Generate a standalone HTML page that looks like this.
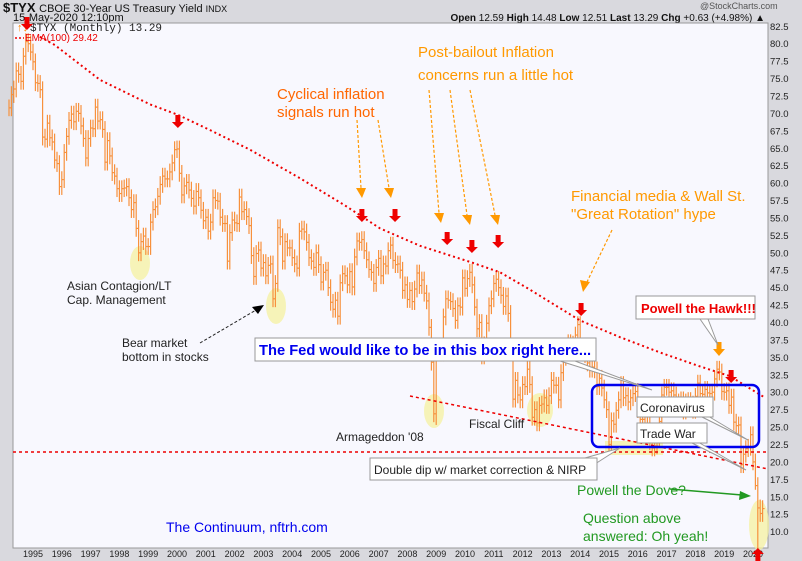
<!DOCTYPE html>
<html><head><meta charset="utf-8"><style>
body{margin:0;background:#d9d9de;}
svg{display:block;font-family:"Liberation Sans",Arial,sans-serif;}
</style></head><body>
<svg id="chart" width="802" height="561" viewBox="0 0 802 561" xmlns="http://www.w3.org/2000/svg">
<rect x="0" y="0" width="802" height="561" fill="#d9d9de"/>
<text x="3" y="12" font-size="13" font-weight="bold" fill="#111">$TYX <tspan font-size="11" font-weight="normal">CBOE 30-Year US Treasury Yield <tspan font-size="9">INDX</tspan></tspan></text>
<text x="13" y="21" font-size="11" fill="#111">15-May-2020 12:10pm</text>
<text x="700" y="9" font-size="9" fill="#555">@StockCharts.com</text>
<text x="765" y="21" font-size="10" text-anchor="end" fill="#111"><tspan font-weight="bold">Open</tspan> 12.59 <tspan font-weight="bold">High</tspan> 14.48 <tspan font-weight="bold">Low</tspan> 12.51 <tspan font-weight="bold">Last</tspan> 13.29 <tspan font-weight="bold">Chg</tspan> +0.63 (+4.98%) ▲</text>
<rect x="13" y="23" width="755" height="525" fill="#f8f8fe" stroke="#999"/>
<g id="yaxis"></g>
<g id="xaxis"></g>
<g id="highlights">
<ellipse cx="140" cy="263" rx="10" ry="17" fill="#f5f2a0" opacity="0.75"/>
<ellipse cx="276" cy="306" rx="10" ry="18" fill="#f5f2a0" opacity="0.75"/>
<ellipse cx="434" cy="411" rx="10" ry="17" fill="#f5f2a0" opacity="0.75"/>
<ellipse cx="540" cy="410" rx="13" ry="17" fill="#f5f2a0" opacity="0.75"/>
<rect x="605" y="441" width="58" height="14" fill="#f5f2a0" opacity="0.75"/>
<ellipse cx="759" cy="525" rx="10" ry="25" fill="#f5f2a0" opacity="0.75"/>
</g>
<g id="bars"></g>
<g id="ema"></g>
<line x1="13" y1="452" x2="768" y2="452" stroke="#e00" stroke-width="1.5" stroke-dasharray="3,3"/>
<line x1="410" y1="396" x2="768" y2="469" stroke="#e00" stroke-width="1.5" stroke-dasharray="3,3"/>
<rect x="592" y="385" width="167" height="62" rx="7" fill="none" stroke="#0000ee" stroke-width="2.5"/>
<g id="legend">
<text x="17" y="31" font-size="11" fill="#f80">↑↓</text>
<text x="30" y="31" font-size="11" font-family="Liberation Mono, monospace" fill="#222">$TYX (Monthly) 13.29</text>
<line x1="15" y1="38" x2="24" y2="38" stroke="#e00" stroke-dasharray="2,2" stroke-width="1.5"/>
<text x="25" y="41" font-size="10" fill="#e00">EMA(100) 29.42</text>
</g>
<g id="arrows"></g>
<g id="notes" font-size="12" fill="#222">
<text x="67" y="290">Asian Contagion/LT</text>
<text x="67" y="304">Cap. Management</text>
<text x="122" y="347">Bear market</text>
<text x="122" y="361">bottom in stocks</text>
<line x1="200" y1="343" x2="256" y2="310" stroke="#222" stroke-dasharray="3,2"/>
<polygon points="264,305 252,307 258,314" fill="#000"/>
<text x="469" y="428">Fiscal Cliff</text>
<text x="336" y="441">Armageddon '08</text>
<g font-size="15" fill="#f60"><text x="277" y="99">Cyclical inflation</text><text x="277" y="117">signals run hot</text></g>
<g font-size="15" fill="#f90"><text x="418" y="57">Post-bailout Inflation</text><text x="418" y="80">concerns run a little hot</text>
<text x="571" y="201">Financial media &amp; Wall St.</text><text x="571" y="219">"Great Rotation" hype</text></g>
<g stroke="#f90" stroke-width="1.2" stroke-dasharray="3,2" fill="none">
<line x1="357" y1="120" x2="361" y2="188"/><line x1="378" y1="120" x2="389" y2="188"/>
<line x1="429" y1="90" x2="439" y2="213"/><line x1="450" y1="90" x2="467" y2="215"/><line x1="470" y1="90" x2="495" y2="215"/>
<line x1="612" y1="230" x2="587" y2="282"/></g>
<g fill="#f90"><polygon points="356,188 366,188 362,198"/><polygon points="384,188 394,188 391,198"/><polygon points="434,213 444,213 441,223"/><polygon points="462,215 472,215 470,225"/><polygon points="490,215 500,215 498,225"/><polygon points="580,280 590,282 583,292"/></g>
<g fill="#fff" stroke="#999">
<polyline points="560,361 652,390 575,361" fill="#fff"/>
<rect x="255" y="338" width="341" height="23"/>
<polyline points="700,319 718,345 708,319"/>
<rect x="636" y="296" width="119" height="23"/>
<polyline points="700,416 748,440 708,416"/>
<rect x="637" y="397" width="76" height="20"/>
<polyline points="690,442 746,470 698,442"/>
<rect x="637" y="423" width="70" height="20"/>
<polyline points="585,458 620,448 595,464"/>
<rect x="370" y="458" width="227" height="22"/>
</g>
<text x="259" y="355" font-size="14.7" font-weight="bold" fill="#0000ee">The Fed would like to be in this box right here...</text>
<text x="641" y="313" font-size="13" font-weight="bold" fill="#e00">Powell the Hawk!!!</text>
<text x="640" y="412" font-size="12">Coronavirus</text>
<text x="640" y="438" font-size="12">Trade War</text>
<text x="374" y="474" font-size="12">Double dip w/ market correction &amp; NIRP</text>
<g font-size="14" fill="#229922"><text x="577" y="495">Powell the Dove?</text>
<text x="583" y="523">Question above</text><text x="583" y="541">answered: Oh yeah!</text></g>
<line x1="670" y1="489" x2="742" y2="495" stroke="#229922" stroke-width="1.5"/>
<polygon points="751,496 740,491 739,500" fill="#229922"/>
<text x="166" y="532" font-size="14" fill="#0000ee">The Continuum, nftrh.com</text>
</g>
</svg>
<script>
const years = [1995,1996,1997,1998,1999,2000,2001,2002,2003,2004,2005,2006,2007,2008,2009,2010,2011,2012,2013,2014,2015,2016,2017,2018,2019,2020];
const yTicks = [82.5,80,77.5,75,72.5,70,67.5,65,62.5,60,57.5,55,52.5,50,47.5,45,42.5,40,37.5,35,32.5,30,27.5,25,22.5,20,17.5,15,12.5,10];
const startYear = 1994 + 2/12;
const closes = [
70.8,72.7,73.5,76.1,75.6,74.6,78.2,80.3,80.0,78.8,
77.4,74.4,74.3,73.4,66.6,66.3,68.6,66.5,65.9,63.3,62.8,59.5,
60.5,64.4,66.7,69.0,69.9,68.8,70.3,70.0,68.2,66.4,63.6,66.4,
67.9,67.8,70.9,68.9,69.1,67.7,63.0,66.1,63.9,61.5,61.0,59.2,
58.5,59.2,59.3,59.5,57.9,56.2,57.2,53.5,50.0,51.6,52.4,50.9,
50.9,54.4,56.2,56.6,58.1,59.8,61.0,60.6,60.6,61.6,62.9,64.8,
64.9,61.4,58.3,59.6,60.1,59.0,57.8,56.7,58.8,57.9,56.1,54.6,
55.1,53.1,54.4,57.9,57.5,57.4,55.1,54.2,54.2,48.8,52.9,54.7,
54.3,54.2,58.0,55.9,56.2,55.2,53.9,49.6,46.6,49.9,50.4,47.8,
48.6,46.7,48.2,48.4,43.4,45.6,53.6,52.3,48.8,51.6,50.7,50.7,
49.3,48.4,47.8,53.1,53.4,53.0,51.5,49.3,48.8,47.9,50.0,48.3,
45.8,47.2,47.5,45.0,42.9,41.9,43.2,40.9,45.7,47.0,46.7,45.4,
47.3,45.1,49.4,51.7,51.5,51.9,50.3,49.0,47.6,47.2,45.6,47.9,
49.2,46.7,48.4,48.1,50.3,51.1,48.9,48.3,48.4,47.5,44.6,45.4,
43.3,44.6,43.0,44.8,47.1,45.3,46.1,44.2,43.1,39.3,34.3,26.9,
36.0,36.1,35.6,40.8,43.4,43.2,43.0,42.0,40.3,42.4,42.2,46.4,
44.9,46.3,47.2,45.4,42.2,39.1,40.0,35.2,36.8,39.9,42.4,43.4,
45.6,46.2,45.0,43.9,42.3,43.8,41.3,36.0,29.0,31.7,29.6,28.9,
31.1,30.8,33.3,31.1,26.4,27.5,25.6,28.1,28.3,29.2,28.1,29.5,
31.7,31.0,31.0,28.9,32.8,35.0,36.4,37.1,36.9,36.3,38.2,39.7,
36.0,35.8,35.4,34.2,33.3,33.6,33.2,30.8,32.0,30.6,28.9,27.5,
22.5,25.9,25.4,27.4,28.9,31.1,29.2,29.5,28.6,29.2,29.8,30.1,
27.5,26.1,26.1,26.7,26.5,22.9,22.0,22.3,23.2,25.8,29.6,30.7,
30.7,30.0,30.2,29.6,28.6,28.4,28.9,27.3,28.6,28.8,28.3,27.4,
29.4,31.3,29.8,29.7,30.4,29.9,29.8,30.0,31.9,33.3,32.9,30.1,
30.0,30.2,28.1,29.3,25.7,25.2,25.3,19.6,21.1,21.9,22.1,23.9,
20.0,16.6,13.4,12.6,13.3];
const lowOverride = {178:25.3, 312:7.0, 311:16.0};
const emaDates = [1995.24,1995.76,1997.33,1999.06,2000.03,2001.15,2002.53,2004.27,2005.83,2007.05,2008.44,2010.17,2011.22,2012.26,2013.99,2015.38,2016.77,2018.16,2019.2,2020.42];
const emaValues = [81.0,79.8,74.8,71.3,69.8,67.6,64.8,60.7,56.8,53.5,51.0,48.7,47.2,44.7,40.3,37.9,35.7,33.7,32.3,29.2];
const redArrowDates = [1994.79,2000.03,2006.42,2007.57,2009.38,2010.24,2011.15,2014.03,2019.24,2020.17];
const redArrowYs = [30,128,222,222,245,253,248,316,383,557];

const NS='http://www.w3.org/2000/svg';
function x(t){return 33+(t-1995)*28.8;}
function y(v){return 43.7+(80-v)*6.97;}
function mk(tag,attrs,parent){const e=document.createElementNS(NS,tag);for(const k in attrs)e.setAttribute(k,attrs[k]);parent.appendChild(e);return e;}
const yg=document.getElementById('yaxis');
yTicks.forEach(v=>{
  const t=mk('text',{x:770,y:y(v)+3.5,'font-size':9.5,fill:'#222'},yg);
  t.textContent=v.toFixed(1);
  
  
});
const xg=document.getElementById('xaxis');
years.forEach(yr=>{
  const t=mk('text',{x:x(yr),y:557,'font-size':9,'text-anchor':'middle',fill:'#222'},xg);
  t.textContent=String(yr);
  
  
});
const bg=document.getElementById('bars');
closes.forEach((c,i)=>{
  const o=i>0?closes[i-1]:c;
  const hi=Math.max(o,c)+1.2;
  const lo=lowOverride[i]!==undefined?lowOverride[i]:Math.min(o,c)-1.2;
  const xx=x(startYear+i/12);
  const g=mk('g',{stroke:'#f7913d','stroke-width':1.2},bg);
  
  
  mk('line',{x1:xx,y1:y(hi),x2:xx,y2:y(lo)},g);
  mk('line',{x1:xx,y1:y(c),x2:xx+2,y2:y(c)},g);
});
const eg=document.getElementById('ema');
const pl=mk('polyline',{points:emaDates.map((d,i)=>x(d)+','+y(emaValues[i])).join(' '),fill:'none',stroke:'#e00','stroke-width':2,'stroke-dasharray':'2,3'},eg);


const ag=document.getElementById('arrows');
redArrowDates.forEach((d,i)=>{
  const xx=x(d),yy=redArrowYs[i];
  const up=i===redArrowDates.length-1;
  const pts=up?[[xx,yy-9],[xx-6,yy-3],[xx-2.5,yy-3],[xx-2.5,yy+4],[xx+2.5,yy+4],[xx+2.5,yy-3],[xx+6,yy-3]]
    :[[xx,yy],[xx-6,yy-6],[xx-2.5,yy-6],[xx-2.5,yy-13],[xx+2.5,yy-13],[xx+2.5,yy-6],[xx+6,yy-6]];
  const p=mk('polygon',{points:pts.map(q=>q.join(',')).join(' '),fill:'#e00'},ag);
  
  
});
const oa=mk('polygon',{points:'719,356 713,349 716.5,349 716.5,342 721.5,342 721.5,349 725,349',fill:'#f90'},ag);


</script>
</body></html>
